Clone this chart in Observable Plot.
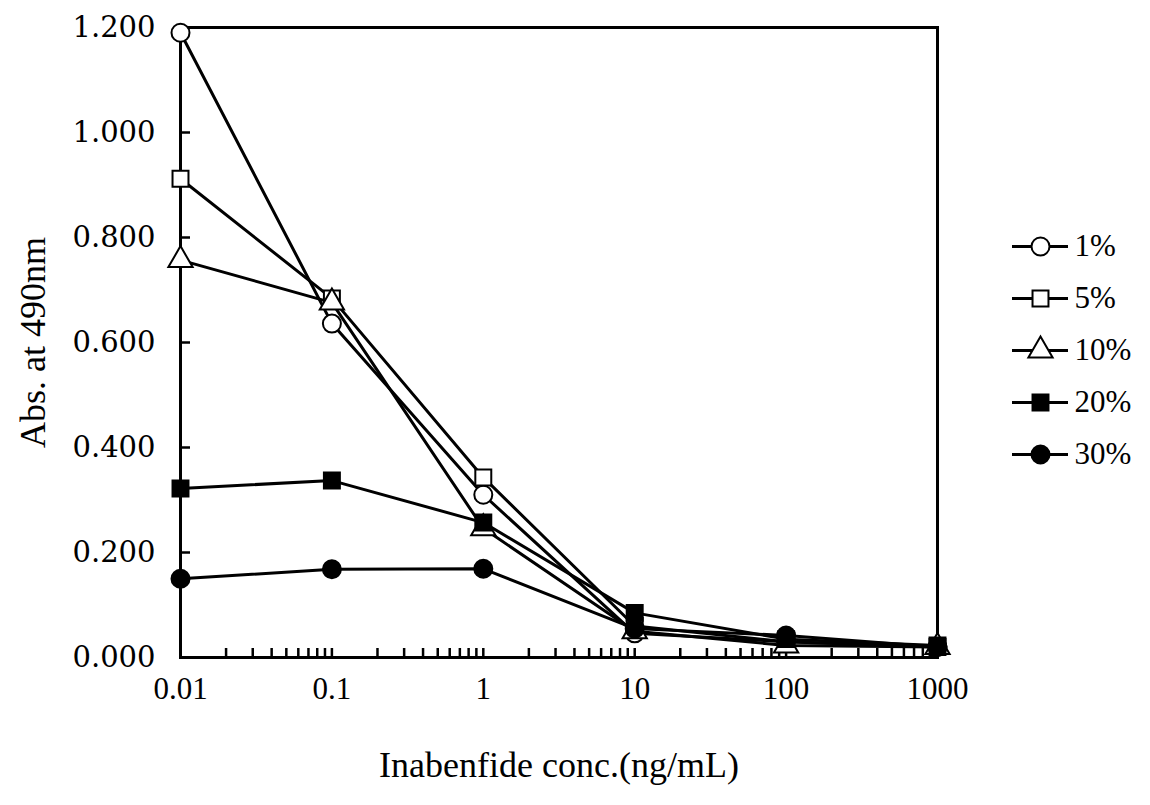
<!DOCTYPE html>
<html>
<head>
<meta charset="utf-8">
<script src="https://cdn.jsdelivr.net/npm/d3@7"></script>
<script src="https://cdn.jsdelivr.net/npm/@observablehq/plot@0.6"></script>
<style>
  html, body { margin: 0; padding: 0; background: #fff; }
  #wrap { position: relative; width: 1150px; height: 805px; }
  #legend { position: absolute; left: 1000px; top: 215px; }
  svg { overflow: visible; }
</style>
</head>
<body>
<div id="wrap"><div id="chart"></div><div id="legend"></div></div>
<script>
// ---- data ----
const concentrations = [0.01, 0.1, 1, 10, 100, 1000];
const seriesNames = ["1%", "5%", "10%", "20%", "30%"];
const abs1  = [1.190, 0.636, 0.310, 0.046, 0.030, 0.020];
const abs5  = [0.912, 0.684, 0.343, 0.060, 0.030, 0.020];
const abs10 = [0.757, 0.676, 0.246, 0.050, 0.023, 0.020];
const abs20 = [0.322, 0.337, 0.257, 0.085, 0.035, 0.023];
const abs30 = [0.150, 0.168, 0.169, 0.055, 0.042, 0.020];
const xTickValues = [0.01, 0.1, 1, 10, 100, 1000];
const xTickLabels = ["0.01", "0.1", "1", "10", "100", "1000"];
const yTickValues = [0, 0.2, 0.4, 0.6, 0.8, 1.0, 1.2];
const xTitle = "Inabenfide conc.(ng/mL)";
const yTitle = "Abs. at 490nm";

const seriesValues = [abs1, abs5, abs10, abs20, abs30];
const symbols = ["circle", "square", "triangle", "square", "circle"];
const fills = ["white", "white", "white", "black", "black"];

const rows = [];
seriesNames.forEach((s, i) => {
  concentrations.forEach((c, j) => rows.push({series: s, conc: c, abs: seriesValues[i][j]}));
});

const W = 1150, H = 805;
const mL = 180, mT = 27, mR = W - 937, mB = H - 657;
const plotW = W - mL - mR, plotH = H - mT - mB;
const minorTicks = d3.scaleLog().domain([0.01, 1000]).ticks();

const symScale = {domain: seriesNames, range: symbols};

const chart = Plot.plot({
  width: W, height: H,
  marginLeft: mL, marginTop: mT, marginRight: mR, marginBottom: mB,
  style: {fontFamily: "'Liberation Serif', serif", color: "black", background: "white"},
  x: {type: "log", domain: [0.01, 1000], label: null},
  y: {domain: [0, 1.2], label: null},
  symbol: symScale,
  marks: [
    Plot.axisX(xTickValues, {tickSize: 0, tickPadding: 19, fontSize: 31,
      tickFormat: (d) => xTickLabels[xTickValues.indexOf(d)], label: null}),
    Plot.axisY(yTickValues, {tickSize: 0, tickPadding: 25, fontSize: 29,
      fontFamily: "'DejaVu Serif', serif",
      tickFormat: d3.format(".3f"), label: null}),
    Plot.text([xTitle], {text: d => d, frameAnchor: "bottom", dy: 108,
      lineAnchor: "middle", fontSize: 36}),
    Plot.text([yTitle], {text: d => d, frameAnchor: "left", dx: -147, rotate: -90,
      lineAnchor: "middle", textAnchor: "middle", fontSize: 36}),
    Plot.tickX(minorTicks, {x: d => d, insetTop: plotH - 9, strokeWidth: 2.5}),
    Plot.tickY(yTickValues, {y: d => d, insetRight: plotW - 10, strokeWidth: 2.5}),
    Plot.frame({strokeWidth: 3}),
    Plot.line(rows, {x: "conc", y: "abs", z: "series", stroke: "black", strokeWidth: 3}),
    Plot.dot(rows, {x: "conc", y: "abs", symbol: "series", r: 9,
      fill: d => fills[seriesNames.indexOf(d.series)], stroke: "black", strokeWidth: 2})
  ]
});
document.getElementById("chart").append(chart);

const legend = Plot.plot({
  width: 150, height: 270,
  marginLeft: 12, marginRight: 82, marginTop: 30, marginBottom: 30,
  style: {fontFamily: "'Liberation Serif', serif", color: "black", background: "transparent"},
  y: {type: "point", domain: seriesNames, axis: null, padding: 0},
  symbol: symScale,
  marks: [
    Plot.ruleY(seriesNames, {y: d => d, stroke: "black", strokeWidth: 3}),
    Plot.dot(seriesNames, {y: d => d, frameAnchor: "middle", symbol: d => d, r: 9,
      fill: d => fills[seriesNames.indexOf(d)], stroke: "black", strokeWidth: 2}),
    Plot.text(seriesNames, {y: d => d, text: d => d, frameAnchor: "right", dx: 6,
      textAnchor: "start", fontSize: 31})
  ]
});
document.getElementById("legend").append(legend);
</script>
</body>
</html>
